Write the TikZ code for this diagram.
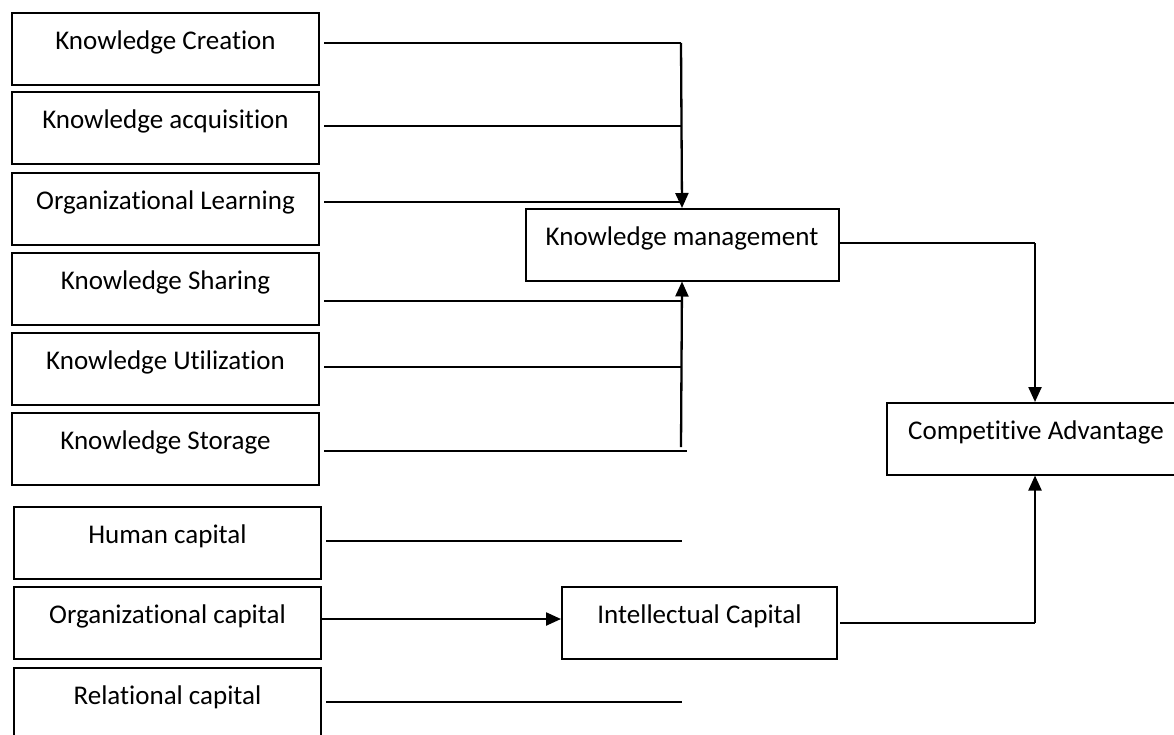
\documentclass[tikz,border=0pt]{standalone}
\usepackage{fontspec}
\setmainfont[Ligatures=NoCommon]{Carlito}
\usetikzlibrary{arrows.meta}
\tikzset{
  box/.style={draw, line width=2pt, rectangle, anchor=north west, inner xsep=0pt, inner ysep=0pt,
    minimum width=307pt, text height=36.5pt, text depth=35pt,
    font=\fontsize{27pt}{32pt}\selectfont},
  link/.style={line width=2.3pt},
  arr/.style={line width=2.3pt, -{Triangle[length=15pt,width=13pt]}}
}
\begin{document}
\begin{tikzpicture}[x=1pt,y=-1pt]
\useasboundingbox (0,0) rectangle (1174,734);
% left column: knowledge management drivers
\node[box] (kc)  at (11,12)  {Knowledge Creation};
\node[box] (ka)  at (11,91)  {Knowledge acquisition};
\node[box] (ol)  at (11,172) {Organizational Learning};
\node[box] (ks)  at (11,252) {Knowledge Sharing};
\node[box] (ku)  at (11,332) {Knowledge Utilization};
\node[box] (kst) at (11,412) {Knowledge Storage};
% left column: capital components
\node[box] (hc) at (13,506) {Human capital};
\node[box] (oc) at (13,586) {Organizational capital};
\node[box] (rc) at (13,667) {Relational capital};
% middle and right
\node[box, minimum width=313pt] (km) at (524.5,208) {Knowledge management};
\node[box, minimum width=275pt] (ic) at (561,586) {Intellectual Capital};
\node[box, minimum width=298pt] (ca) at (886,402) {Competitive Advantage};

% junction points
\coordinate (jtop) at (681,43);
\coordinate (jka)  at (681,126);
\coordinate (jol)  at (681,202);
\coordinate (jks)  at (681,301);
\coordinate (jku)  at (681,367);
\coordinate (jbot) at (681,447);
\coordinate (jst)  at (687,451);
\coordinate (ehc)  at (682,541);
\coordinate (erc)  at (682,702);
\coordinate (kmr)  at (1035,243);
\coordinate (icr)  at (1035,623);

% upper feeders into knowledge management
\draw[link] ([xshift=4pt]kc.east |- jtop) -- (jtop);
\draw[arr] (jtop) -- (km.north);
\draw[link] ([xshift=4pt]ka.east |- jka) -- (jka);
\draw[link] ([xshift=4pt]ol.east |- jol) -- (jol);
% lower feeders into knowledge management
\draw[link] ([xshift=4pt]ks.east |- jks) -- (jks);
\draw[link] ([xshift=4pt]ku.east |- jku) -- (jku);
\draw[link] ([xshift=4pt]kst.east |- jst) -- (jst);
\draw[arr] (jbot) -- (km.south);
% capital components
\draw[link] ([xshift=4pt]hc.east |- ehc) -- (ehc);
\draw[arr] (oc.east |- 0,619) -- (ic.west |- 0,619);
\draw[link] ([xshift=4pt]rc.east |- erc) -- (erc);
% outputs into competitive advantage
\draw[link] (km.east |- kmr) -- (kmr);
\draw[arr] (kmr) -- (ca.north -| kmr);
\draw[link] ([xshift=2pt]ic.east |- icr) -- (icr);
\draw[arr] (icr) -- (ca.south -| icr);
\end{tikzpicture}
\end{document}
